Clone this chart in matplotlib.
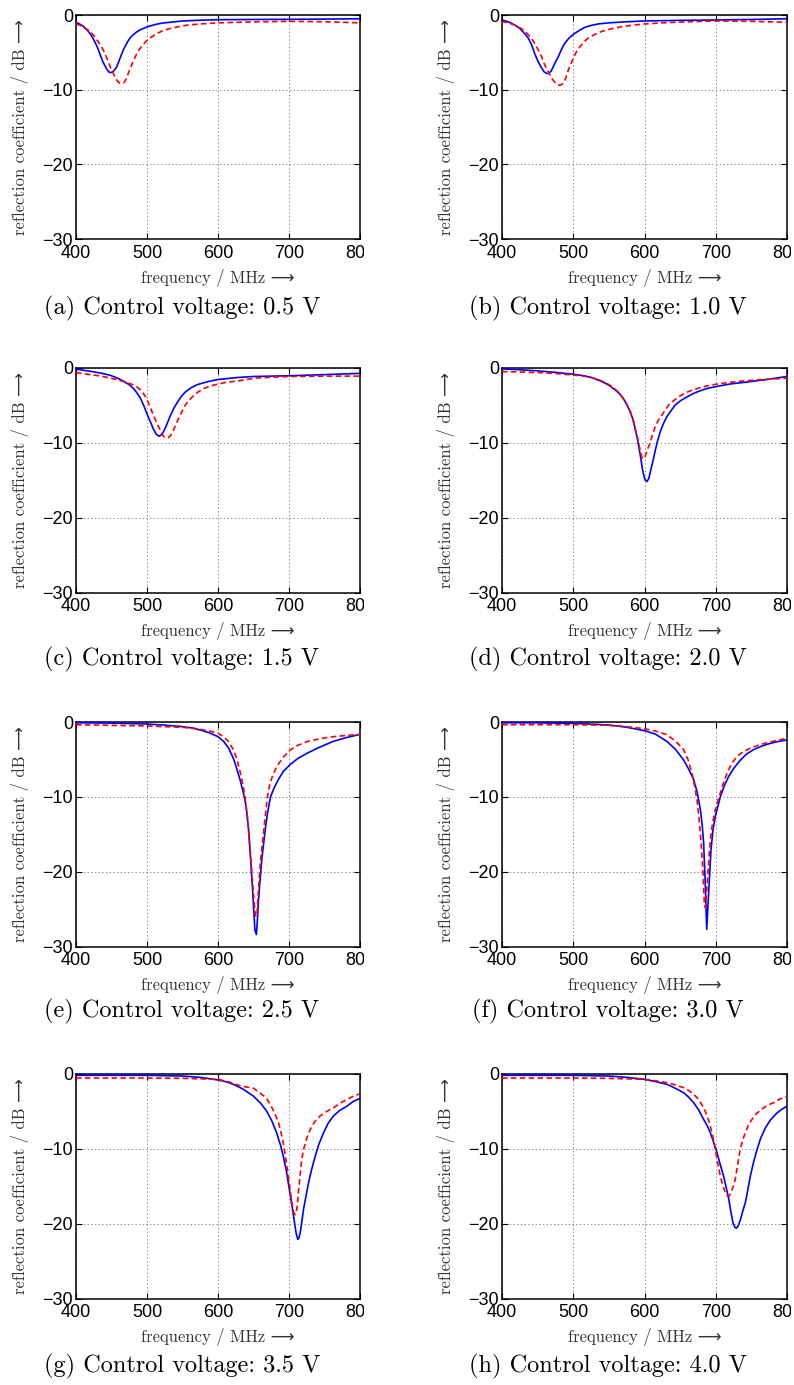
import matplotlib
matplotlib.use("Agg")
import matplotlib.pyplot as plt
from matplotlib.transforms import Bbox, TransformedBbox

plt.rcParams["lines.scale_dashes"] = False
plt.rcParams["axes.unicode_minus"] = True

# ---------------- data ----------------
xticks = [400, 500, 600, 700, 800]
xtick_labels = ["400", "500", "600", "700", "800"]
yticks = [0, -10, -20, -30]
ytick_labels = ["0", "\u221210", "\u221220", "\u221230"]

captions = ["(a) Control voltage: 0.5 V", "(b) Control voltage: 1.0 V",
            "(c) Control voltage: 1.5 V", "(d) Control voltage: 2.0 V",
            "(e) Control voltage: 2.5 V", "(f) Control voltage: 3.0 V",
            "(g) Control voltage: 3.5 V", "(h) Control voltage: 4.0 V"]

# (a) 0.5 V
fa_solid = [400, 405, 410, 415, 420, 425, 430, 434, 438, 443, 446, 448, 450, 453, 457, 460, 464, 467, 472, 476, 480, 485, 490, 495, 500, 507, 515, 522, 530, 540, 550, 575, 600, 650, 700, 750, 800]
sa_solid = [-1.0, -1.2, -1.5, -1.95, -2.5, -3.3, -4.3, -5.3, -6.3, -7.2, -7.6, -7.7, -7.7, -7.5, -7.0, -6.3, -5.3, -4.6, -3.7, -3.1, -2.7, -2.3, -2.0, -1.8, -1.6, -1.4, -1.2, -1.08, -1.0, -0.9, -0.8, -0.7, -0.63, -0.6, -0.58, -0.55, -0.5]
fa_dash = [400, 405, 410, 415, 420, 425, 430, 435, 440, 444, 448, 452, 455, 458, 461, 464, 467, 470, 473, 477, 481, 485, 490, 495, 500, 507, 514, 522, 533, 545, 557, 575, 600, 650, 700, 750, 800]
sa_dash = [-1.2, -1.35, -1.6, -1.9, -2.2, -2.75, -3.4, -4.1, -5.0, -5.9, -6.9, -7.7, -8.3, -8.8, -9.1, -9.2, -9.1, -8.7, -8.0, -7.0, -6.1, -5.3, -4.5, -3.9, -3.4, -2.9, -2.5, -2.1, -1.8, -1.55, -1.35, -1.2, -1.05, -0.92, -0.85, -0.9, -1.05]

# (b) 1.0 V
fb_solid = [400, 407, 413, 419, 425, 431, 437, 442, 446, 451, 455, 459, 463, 466, 469, 472, 475, 479, 483, 488, 494, 500, 508, 516, 525, 535, 550, 568, 600, 650, 700, 750, 800]
sb_solid = [-0.67, -0.85, -1.1, -1.4, -1.8, -2.4, -3.1, -4.1, -5.2, -6.3, -7.0, -7.6, -7.85, -7.8, -7.5, -6.9, -6.3, -5.6, -4.7, -3.8, -3.1, -2.6, -2.1, -1.66, -1.4, -1.2, -1.05, -0.94, -0.8, -0.72, -0.67, -0.6, -0.5]
fb_dash = [400, 407, 413, 420, 427, 434, 441, 446, 451, 456, 460, 465, 470, 474, 478, 481, 484, 487, 490, 493, 496, 500, 504, 509, 515, 521, 530, 540, 553, 568, 585, 600, 625, 652, 700, 750, 800]
sb_dash = [-0.9, -1.0, -1.2, -1.45, -1.8, -2.35, -3.1, -3.8, -4.7, -5.7, -6.7, -7.6, -8.5, -9.0, -9.35, -9.4, -9.3, -9.0, -8.3, -7.4, -6.7, -5.8, -5.0, -4.3, -3.6, -3.1, -2.6, -2.2, -1.85, -1.57, -1.35, -1.2, -1.05, -0.94, -0.8, -0.85, -0.98]

# (c) 1.5 V
fc_solid = [400, 420, 435, 448, 458, 467, 475, 481, 486, 491, 496, 500, 505, 509, 513, 517, 520, 523, 527, 530, 533, 538, 543, 548, 554, 562, 571, 585, 600, 627, 650, 700, 750, 800]
sc_solid = [-0.22, -0.5, -0.75, -1.03, -1.4, -1.83, -2.3, -2.8, -3.4, -4.15, -5.2, -6.2, -7.3, -8.2, -8.9, -9.15, -9.0, -8.6, -7.8, -7.1, -6.4, -5.4, -4.6, -3.9, -3.26, -2.7, -2.28, -1.9, -1.6, -1.34, -1.2, -1.1, -0.95, -0.78]
fc_dash = [400, 420, 435, 448, 460, 472, 480, 486, 492, 498, 502, 507, 512, 517, 521, 524, 527, 530, 533, 537, 542, 548, 554, 560, 566, 573, 580, 590, 600, 613, 627, 640, 655, 675, 700, 750, 800]
sc_dash = [-0.67, -0.94, -1.15, -1.4, -1.7, -2.0, -2.3, -2.6, -3.1, -3.9, -4.7, -5.9, -7.0, -8.0, -8.8, -9.25, -9.4, -9.35, -9.1, -8.4, -7.3, -6.1, -5.0, -4.3, -3.7, -3.2, -2.8, -2.45, -2.2, -1.95, -1.8, -1.6, -1.4, -1.3, -1.2, -1.15, -1.15]

# (d) 2.0 V
fd_solid = [400, 425, 450, 475, 500, 515, 526, 536, 545, 552, 559, 565, 570, 575, 580, 584, 587, 590, 592.5, 595, 597, 599, 601, 603.5, 606, 608, 610, 612.5, 615, 618, 622, 626, 631, 637, 643, 651, 660, 670, 681, 690, 700, 720, 747, 775, 800]
sd_solid = [-0.18, -0.3, -0.45, -0.65, -0.9, -1.1, -1.35, -1.7, -2.1, -2.5, -3.0, -3.5, -4.1, -4.9, -5.9, -7.0, -8.2, -9.5, -10.85, -12.2, -13.5, -14.4, -15.0, -15.2, -14.8, -14.0, -13.2, -12.2, -11.1, -9.9, -8.6, -7.6, -6.6, -5.8, -5.0, -4.4, -3.9, -3.4, -3.0, -2.75, -2.55, -2.2, -1.9, -1.55, -1.2]
fd_dash = [400, 425, 450, 475, 500, 515, 526, 536, 545, 552, 559, 565, 570, 575, 580, 584, 587, 590, 592.5, 594.5, 596.5, 598.5, 601, 604, 608, 611, 615, 619, 624, 629, 634, 640, 648, 657, 667, 678, 690, 703, 718, 737, 756, 778, 800]
sd_dash = [-0.54, -0.6, -0.67, -0.8, -1.0, -1.15, -1.35, -1.65, -2.0, -2.4, -2.9, -3.45, -4.1, -4.9, -5.9, -7.0, -8.2, -9.3, -10.4, -11.3, -12.0, -12.2, -11.8, -11.0, -10.0, -9.0, -7.9, -7.1, -6.4, -5.7, -5.0, -4.5, -3.9, -3.4, -3.0, -2.7, -2.4, -2.2, -2.0, -1.8, -1.66, -1.55, -1.43]

# (e) 2.5 V
fe_solid = [400, 450, 500, 525, 550, 565, 575, 588, 600, 608, 615, 621.6, 626, 631, 635, 638, 640.5, 642.7, 646, 649, 652, 654, 655.5, 657, 661.6, 667, 670, 674, 679, 685, 692, 701.5, 712, 725, 740, 762, 780, 800]
se_solid = [-0.1, -0.15, -0.27, -0.42, -0.62, -0.82, -1.07, -1.45, -1.96, -2.6, -3.5, -4.85, -6.1, -7.7, -9.2, -10.4, -12.0, -14.0, -18.4, -22.9, -27.8, -28.4, -26.5, -23.8, -18.4, -14.0, -12.0, -10.0, -8.8, -7.7, -6.6, -5.7, -4.9, -4.2, -3.5, -2.6, -2.1, -1.65]
fe_dash = [400, 450, 500, 525, 550, 565, 575, 588, 600, 608, 615, 621.6, 626, 631, 635, 638, 640.5, 642.7, 646, 649.8, 653, 655, 657, 660, 665, 669.5, 673, 676.5, 681, 686, 693, 702, 713, 726, 745, 763, 780, 800]
se_dash = [-0.36, -0.45, -0.53, -0.62, -0.71, -0.85, -0.98, -1.2, -1.5, -2.0, -2.6, -3.7, -4.8, -6.6, -8.3, -10.0, -11.9, -14.0, -18.0, -22.9, -26.0, -25.5, -22.5, -18.4, -14.0, -10.0, -8.3, -7.3, -6.3, -5.5, -4.6, -3.7, -3.1, -2.6, -2.2, -1.96, -1.8, -1.65]

# (f) 3.0 V
ff_solid = [400, 450, 500, 525, 550, 575, 600, 615, 631.6, 644, 655, 662, 669, 674, 678.4, 681, 683, 685.4, 687.3, 690, 693.3, 696, 699.4, 706.4, 712, 718, 726, 734.5, 743, 753, 765, 776.6, 788, 800]
sf_solid = [-0.1, -0.12, -0.18, -0.28, -0.4, -0.7, -1.16, -1.6, -2.6, -3.7, -5.1, -6.3, -7.7, -9.4, -11.7, -13.8, -16.2, -21.9, -27.7, -22.9, -17.1, -14.5, -12.6, -10.0, -8.5, -7.3, -6.1, -5.1, -4.3, -3.7, -3.2, -2.85, -2.6, -2.4]
ff_dash = [400, 450, 500, 525, 550, 575, 600, 615, 631.6, 644, 655, 661, 666.7, 670, 673.7, 676, 678.4, 682, 684, 685.5, 687.7, 690, 692.4, 695.5, 699.4, 703, 706.4, 711, 715.8, 722, 729.8, 738, 748.5, 760, 772, 786, 800]
sf_dash = [-0.36, -0.36, -0.36, -0.4, -0.45, -0.62, -0.9, -1.2, -1.7, -2.6, -3.7, -5.0, -6.85, -8.4, -10.4, -12.4, -14.9, -19.8, -24.4, -24.8, -22.0, -18.8, -15.75, -13.5, -11.75, -10.5, -9.5, -8.1, -6.85, -5.6, -4.6, -4.0, -3.5, -3.1, -2.76, -2.45, -2.2]

# (g) 3.5 V
fg_solid = [400, 450, 500, 550, 575, 600, 610, 621.6, 635, 649.8, 660, 668.5, 676, 682.6, 688, 692, 696, 699, 702, 705, 708, 710, 712.4, 714, 715.7, 718, 720.4, 724, 727.5, 732, 736.9, 742, 748.6, 755, 762.7, 771, 781.5, 790, 800]
sg_solid = [-0.18, -0.18, -0.18, -0.27, -0.45, -0.8, -1.0, -1.38, -2.0, -2.95, -3.9, -4.95, -6.3, -7.86, -9.5, -11.0, -12.8, -14.55, -16.3, -18.1, -20.0, -21.25, -22.1, -21.9, -21.25, -19.8, -18.1, -16.3, -14.55, -12.7, -11.0, -9.4, -7.86, -6.6, -5.6, -4.9, -4.3, -3.7, -3.26]
fg_dash = [400, 500, 550, 600, 615, 632, 650, 660, 668, 675, 680, 685, 689, 693, 697, 701, 704, 706.5, 708.5, 710, 711.5, 713.6, 716, 718, 720.5, 723, 726, 730, 736, 744, 753, 763, 772, 781.7, 790, 800]
sg_dash = [-0.54, -0.54, -0.58, -0.71, -1.05, -1.6, -1.9, -2.6, -3.2, -4.3, -5.3, -6.4, -7.9, -9.8, -12.3, -15.0, -17.2, -18.5, -18.8, -18.5, -17.7, -15.45, -13.2, -11.4, -10.1, -9.2, -8.3, -7.4, -6.4, -5.6, -5.0, -4.5, -3.9, -3.4, -3.0, -2.63]

# (h) 4.0 V
fh_solid = [400, 500, 550, 575, 600, 615, 631.6, 643, 655, 662, 669, 676, 683, 688, 692.4, 697, 701.8, 706, 711, 715, 718.4, 721, 724.2, 727, 729, 731.5, 734.5, 738, 741.5, 745, 748.5, 753, 757.9, 763, 769.6, 777, 786, 793, 800]
sh_solid = [-0.18, -0.18, -0.27, -0.45, -0.71, -1.0, -1.38, -1.9, -2.5, -3.1, -3.84, -4.8, -6.07, -6.9, -7.86, -9.1, -10.54, -12.0, -13.66, -15.3, -16.8, -18.3, -19.9, -20.5, -20.6, -20.3, -19.5, -18.3, -17.2, -15.5, -13.66, -11.8, -10.1, -8.6, -7.2, -6.1, -5.2, -4.7, -4.3]
fh_dash = [400, 500, 550, 600, 615, 631.6, 643, 655, 662, 669, 676, 683, 688, 692.4, 696, 699.4, 703, 706.4, 710, 713.5, 716.5, 719, 721, 722.6, 725, 727.3, 731, 734.3, 737.5, 741.3, 745.5, 750.6, 757, 764.7, 772, 781, 790, 800]
sh_dash = [-0.54, -0.54, -0.58, -0.71, -0.9, -1.16, -1.45, -1.83, -2.2, -2.72, -3.4, -4.5, -5.6, -6.96, -8.4, -10.1, -12.0, -13.66, -14.9, -15.9, -16.3, -16.3, -15.9, -15.5, -14.9, -14.1, -12.0, -10.1, -8.9, -7.9, -6.9, -6.1, -5.3, -4.7, -4.2, -3.84, -3.35, -2.95]

panels = [
    (fa_solid, sa_solid, fa_dash, sa_dash),
    (fb_solid, sb_solid, fb_dash, sb_dash),
    (fc_solid, sc_solid, fc_dash, sc_dash),
    (fd_solid, sd_solid, fd_dash, sd_dash),
    (fe_solid, se_solid, fe_dash, se_dash),
    (ff_solid, sf_solid, ff_dash, sf_dash),
    (fg_solid, sg_solid, fg_dash, sg_dash),
    (fh_solid, sh_solid, fh_dash, sh_dash),
]

xlabel_text = "frequency / MHz \u27F6"
ylabel_text = "reflection coefficient / dB \u27F6"

# ---------------- layout (pixels) ----------------
W, H, DPI = 794, 1385, 100
col_x = [(76, 360), (502, 787)]
row_y = [(15, 239), (367.5, 592.5), (722, 946.5), (1074, 1298.5)]
caption_y = [308, 659, 1011, 1366]
caption_x = [182, 608]
clip_right = [364, 791]

label_font = ["cmr10", "DejaVu Sans"]
tick_font = ["Liberation Sans", "DejaVu Sans"]

fig = plt.figure(figsize=(W / DPI, H / DPI), dpi=DPI)

for i, (fs, ss, fd, sd) in enumerate(panels):
    r, c = divmod(i, 2)
    x0, x1 = col_x[c]
    y0, y1 = row_y[r]
    aw, ah = x1 - x0, y1 - y0
    ax = fig.add_axes([x0 / W, 1 - y1 / H, aw / W, ah / H])
    ax.plot(fs, ss, color="#0000ff", lw=1.2, zorder=3, solid_joinstyle="round")
    ax.plot(fd, sd, color="#ff0000", lw=1.2, dashes=(4.0, 2.4), zorder=3)
    ax.set_xlim(400, 800)
    ax.set_ylim(-30, 0)
    ax.set_xticks(xticks)
    ax.set_xticklabels(xtick_labels, family=tick_font, fontsize=13)
    ax.set_yticks(yticks)
    ax.set_yticklabels(ytick_labels, family=tick_font, fontsize=13)
    ax.grid(True, linestyle=":", color="#8c8c8c", linewidth=0.7)
    ax.tick_params(axis="both", direction="in", length=4, width=0.8,
                   top=True, right=True, colors="black")
    ax.tick_params(axis="x", pad=4)
    ax.tick_params(axis="y", pad=2)
    for sp in ax.spines.values():
        sp.set_linewidth(1.1)
        sp.set_color("black")

    ax.set_xlabel(xlabel_text, family=label_font, fontsize=12, color="#333333")
    ax.xaxis.set_label_coords(0.5, -39 / ah)
    ax.xaxis.label.set_verticalalignment("center")
    ax.set_ylabel(ylabel_text, family=label_font, fontsize=12, color="#333333")
    ax.yaxis.set_label_coords(-56 / aw, 0.5)
    ax.yaxis.label.set_verticalalignment("center")

    clip = TransformedBbox(Bbox.from_extents(0, 0, clip_right[c] / W, 1), fig.transFigure)
    for t in ax.xaxis.get_major_ticks():
        t.label1.set_clip_on(True)
        t.label1.set_clip_box(clip)

    fig.text(caption_x[c] / W, 1 - caption_y[r] / H, captions[i],
             family=label_font, fontsize=17.5, ha="center", va="center", color="black")

fig.savefig("out.png", dpi=DPI)
